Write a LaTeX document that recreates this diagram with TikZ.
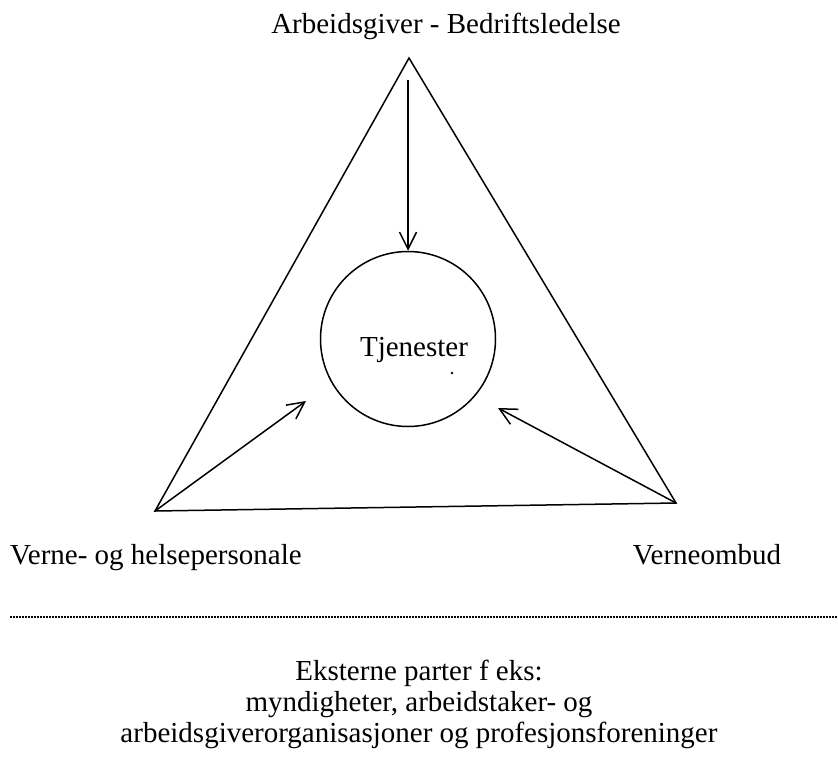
\documentclass[tikz,border=0pt]{standalone}
\usepackage{fontspec}
\setmainfont{Liberation Serif}
\usetikzlibrary{arrows.meta}
\begin{document}
\begin{tikzpicture}[x=1pt,y=-1pt,
  lbl/.style={font=\fontsize{29}{31}\selectfont, inner sep=0pt, anchor=base},
  edge/.style={line width=1.5pt},
  arr/.style={line width=1.5pt, -{Straight Barb[length=17pt,width=17pt,line width=1.5pt]}}]
\useasboundingbox (0,0) rectangle (838,756);
% vertices
\coordinate (top) at (409,58);
\coordinate (bl) at (155,511);
\coordinate (br) at (676,503);
\draw[edge, line join=miter] (top) -- (br) -- (bl) -- cycle;
% circle
\node[circle, draw, line width=1.5pt, minimum size=175pt, inner sep=0pt] (circ) at (408,339) {};
\node[lbl] (tj) at (414,356) {Tjenester};
\fill (452,373) circle (1.4pt);
% arrows
\coordinate (topstart) at (408,80);
\coordinate (blend) at (306,401);
\coordinate (brend) at (498,408);
\draw[arr] (topstart) -- (circ.north);
\draw[arr] (bl) -- (blend);
\draw[arr] (br) -- (brend);
% labels
\node[lbl] (ab) at (446,33) {Arbeidsgiver - Bedriftsledelse};
\node[lbl, anchor=base west] (vh) at (10,564) {Verne- og helsepersonale};
\node[lbl] (vo) at (707,564) {Verneombud};
% dashed line
\coordinate (dl) at (10,617);
\coordinate (dr) at (838,617);
\draw[line width=2pt, dash pattern=on 2.2pt off 0.8pt] (dl) -- (dr);
% bottom text
\node[lbl] (e1) at (419,680) {Eksterne parter f eks:};
\node[lbl] (e2) at (419,711) {myndigheter, arbeidstaker- og};
\node[lbl] (e3) at (419,742) {arbeidsgiverorganisasjoner og profesjonsforeninger};
\end{tikzpicture}
\end{document}
